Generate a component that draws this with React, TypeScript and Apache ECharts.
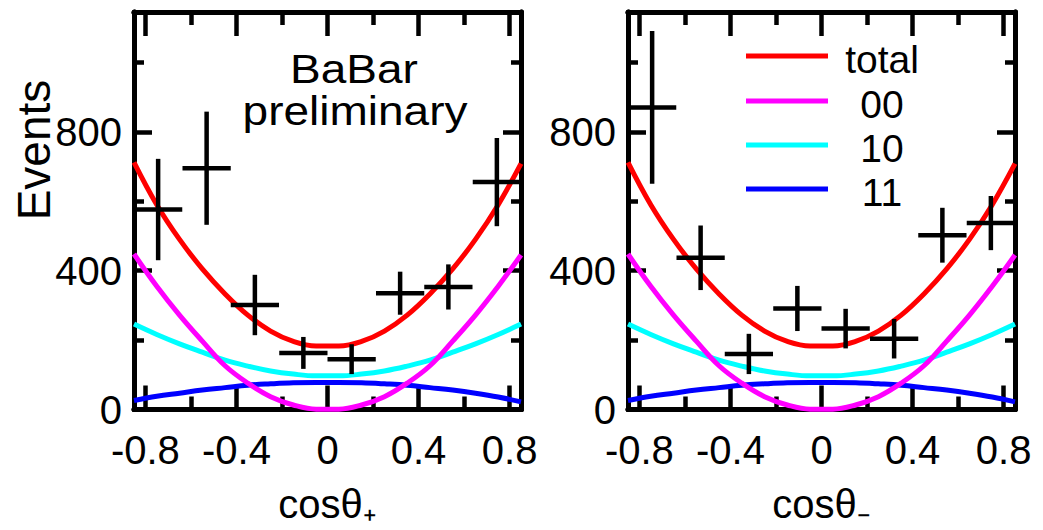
import React, { useEffect, useRef } from "react";
import * as echarts from "echarts";

// ---- data ----
const binCenters = [-0.744, -0.531, -0.319, -0.106, 0.106, 0.319, 0.531, 0.744];
const binHalfWidth = 0.106;
const plusEvents = [576, 695, 301, 163, 145, 335, 353, 655];
const plusErrors = [146, 163, 87, 46, 43, 62, 65, 127];
const minusEvents = [870, 437, 160, 291, 233, 204, 502, 537];
const minusErrors = [220, 93, 58, 65, 57, 57, 79, 78];

const curveX = [
  -0.85, -0.75, -0.65, -0.55, -0.45, -0.35, -0.25, -0.15, -0.05,
  0.05, 0.15, 0.25, 0.35, 0.45, 0.55, 0.65, 0.75, 0.85,
];
const curveTotal = [712, 590, 490, 405, 333, 272, 226, 196, 183, 183, 196, 226, 272, 333, 405, 490, 590, 708];
const curve00 = [448, 355, 272, 197, 126, 76, 37, 13, 1, 1, 13, 37, 76, 126, 197, 272, 355, 445];
const curve10 = [246, 216, 189, 165, 142, 125, 111, 102, 97, 97, 102, 111, 125, 142, 165, 189, 216, 246];
const curve11 = [26, 38, 47, 56, 63, 70, 74, 77, 78, 78, 77, 74, 70, 63, 56, 47, 36, 22];

const xMajorTicks = [-0.8, -0.4, 0, 0.4, 0.8];
const xMinorTicks = [-0.6, -0.2, 0.2, 0.6];
const yMajorTicks = [0, 400, 800];
const yMinorTicks = [200, 600, 1000];

const componentNames = ["total", "00", "10", "11"];
const componentColors = ["#ff0000", "#ff00ff", "#00ffff", "#0000ff"];
const componentCurves = [curveTotal, curve00, curve10, curve11];
const panelTitles = ["cosθ₊", "cosθ₋"];

const SANS = "'Liberation Sans', Arial, sans-serif";

const X_MIN = -0.85;
const X_MAX = 0.85;
const Y_MIN = 0;
const Y_MAX = 1145;

const frameLine = { show: true, onZero: false, lineStyle: { color: "#000", width: 5 } };
const tickStyle = { color: "#000", width: 4.5 };

function xAxes(gridIndex: number, title: string) {
  const base = {
    type: "value",
    gridIndex,
    min: X_MIN,
    max: X_MAX,
    axisLine: frameLine,
    splitLine: { show: false },
  };
  return [
    {
      ...base,
      position: "bottom",
      axisTick: { show: true, inside: true, length: 24, customValues: xMajorTicks, lineStyle: tickStyle },
      axisLabel: {
        show: true,
        customValues: xMajorTicks,
        margin: 20,
        color: "#000",
        fontSize: 40,
        fontFamily: SANS,
      },
      name: title,
      nameLocation: "middle",
      nameGap: 74,
      nameTextStyle: { fontSize: 40, fontFamily: SANS, color: "#000" },
    },
    {
      ...base,
      position: "bottom",
      axisTick: { show: true, inside: true, length: 13, customValues: xMinorTicks, lineStyle: tickStyle },
      axisLabel: { show: false },
    },
    {
      ...base,
      position: "top",
      axisTick: { show: true, inside: true, length: 24, customValues: xMajorTicks, lineStyle: tickStyle },
      axisLabel: { show: false },
    },
    {
      ...base,
      position: "top",
      axisTick: { show: true, inside: true, length: 13, customValues: xMinorTicks, lineStyle: tickStyle },
      axisLabel: { show: false },
    },
  ];
}

function yAxes(gridIndex: number) {
  const base = {
    type: "value",
    gridIndex,
    min: Y_MIN,
    max: Y_MAX,
    axisLine: frameLine,
    splitLine: { show: false },
  };
  return [
    {
      ...base,
      position: "left",
      axisTick: { show: true, inside: true, length: 18, customValues: yMajorTicks, lineStyle: tickStyle },
      axisLabel: {
        show: true,
        customValues: yMajorTicks,
        margin: 12,
        color: "#000",
        fontSize: 40,
        fontFamily: SANS,
      },
    },
    {
      ...base,
      position: "left",
      axisTick: { show: true, inside: true, length: 10, customValues: yMinorTicks, lineStyle: tickStyle },
      axisLabel: { show: false },
    },
    {
      ...base,
      position: "right",
      axisTick: { show: true, inside: true, length: 18, customValues: yMajorTicks, lineStyle: tickStyle },
      axisLabel: { show: false },
    },
    {
      ...base,
      position: "right",
      axisTick: { show: true, inside: true, length: 10, customValues: yMinorTicks, lineStyle: tickStyle },
      axisLabel: { show: false },
    },
  ];
}

function curveSeries(gridIndex: number) {
  return componentNames.map((name, k) => ({
    type: "line",
    name,
    xAxisIndex: gridIndex * 4,
    yAxisIndex: gridIndex * 4,
    data: curveX.map((x, i) => [x, componentCurves[k][i]]),
    smooth: 0.4,
    showSymbol: false,
    symbol: "none",
    silent: true,
    z: 5 - k,
    lineStyle: { color: componentColors[k], width: 5 },
    itemStyle: { color: componentColors[k] },
  }));
}

function crossSeries(gridIndex: number, ys: number[], errs: number[]) {
  return {
    type: "custom",
    name: gridIndex === 0 ? "data+" : "data-",
    xAxisIndex: gridIndex * 4,
    yAxisIndex: gridIndex * 4,
    data: binCenters.map((x, i) => [x, ys[i], errs[i]]),
    encode: { x: 0, y: 1 },
    z: 10,
    silent: true,
    renderItem: (params: any, api: any) => {
      const x = api.value(0);
      const y = api.value(1);
      const e = api.value(2);
      const l = api.coord([x - binHalfWidth, y]);
      const r = api.coord([x + binHalfWidth, y]);
      const t = api.coord([x, y + e]);
      const b = api.coord([x, y - e]);
      const style = { stroke: "#000", lineWidth: 4.5 };
      return {
        type: "group",
        children: [
          { type: "line", shape: { x1: l[0], y1: l[1], x2: r[0], y2: r[1] }, style },
          { type: "line", shape: { x1: t[0], y1: t[1], x2: b[0], y2: b[1] }, style },
        ],
      };
    },
  };
}

export default function App() {
  const ref = useRef<HTMLDivElement>(null);

  useEffect(() => {
    if (!ref.current) return;
    const chart = echarts.init(ref.current, null, { renderer: "svg" });

    const legendGraphics: any[] = [];
    const legendLineY = [56, 101, 145, 189];
    const legendTextY = [59.5, 104, 148, 192.5];
    componentNames.forEach((name, k) => {
      legendGraphics.push({
        type: "line",
        shape: { x1: 746, y1: legendLineY[k], x2: 828, y2: legendLineY[k] },
        style: { stroke: componentColors[k], lineWidth: 5 },
      });
      legendGraphics.push({
        type: "text",
        x: 882,
        y: legendTextY[k],
        style: {
          text: name,
          font: `39px ${SANS}`,
          fill: "#000",
          textAlign: "center",
          textVerticalAlign: "middle",
        },
      });
    });

    const option: any = {
      animation: false,
      backgroundColor: "#fff",
      grid: [
        { left: 134, top: 12, width: 387, height: 397.5, show: false },
        { left: 628, top: 12, width: 387, height: 397.5, show: false },
      ],
      xAxis: [...xAxes(0, panelTitles[0]), ...xAxes(1, panelTitles[1])],
      yAxis: [...yAxes(0), ...yAxes(1)],
      series: [
        ...curveSeries(0),
        crossSeries(0, plusEvents, plusErrors),
        ...curveSeries(1),
        crossSeries(1, minusEvents, minusErrors),
      ],
      graphic: [
        {
          type: "text",
          x: 34,
          y: 150,
          rotation: Math.PI / 2,
          style: { text: "Events", font: `46px ${SANS}`, fill: "#000", textAlign: "center", textVerticalAlign: "middle" },
        },
        {
          type: "text",
          x: 354,
          y: 69,
          scaleX: 1.15,
          style: { text: "BaBar", font: `40px ${SANS}`, fill: "#000", textAlign: "center", textVerticalAlign: "middle" },
        },
        {
          type: "text",
          x: 355,
          y: 111,
          scaleX: 1.15,
          style: { text: "preliminary", font: `40px ${SANS}`, fill: "#000", textAlign: "center", textVerticalAlign: "middle" },
        },
        ...legendGraphics,
      ],
    };
    chart.setOption(option);
    return () => chart.dispose();
  }, []);

  return (
    <div
      ref={ref}
      style={{ position: "fixed", left: 0, top: 0, width: 1043, height: 530, background: "#fff" }}
    />
  );
}
